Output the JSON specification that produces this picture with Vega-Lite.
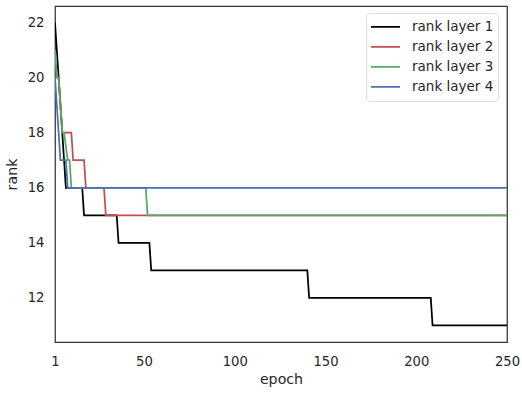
{
  "$schema": "https://vega.github.io/schema/vega-lite/v6.json",
  "autosize": "none",
  "width": 452,
  "height": 336,
  "padding": {"left": 55, "top": 6, "right": 15, "bottom": 52},
  "background": "white",
  "config": {
    "font": "DejaVu Sans",
    "view": {"stroke": "#333333", "strokeWidth": 1.25},
    "axis": {"grid": false, "ticks": false, "domain": false, "labelColor": "#262626", "titleColor": "#262626", "labelFontSize": 13.2, "titleFontSize": 14.2, "titleFontWeight": "normal"}
  },
  "data": {"values": [
    {"epoch": 1, "rank": 22, "series": "rank layer 1"},
    {"epoch": 2, "rank": 21, "series": "rank layer 1"},
    {"epoch": 3, "rank": 20, "series": "rank layer 1"},
    {"epoch": 4, "rank": 19, "series": "rank layer 1"},
    {"epoch": 5, "rank": 18, "series": "rank layer 1"},
    {"epoch": 6, "rank": 17, "series": "rank layer 1"},
    {"epoch": 7, "rank": 16, "series": "rank layer 1"},
    {"epoch": 16, "rank": 16, "series": "rank layer 1"},
    {"epoch": 17, "rank": 15, "series": "rank layer 1"},
    {"epoch": 35, "rank": 15, "series": "rank layer 1"},
    {"epoch": 36, "rank": 14, "series": "rank layer 1"},
    {"epoch": 53, "rank": 14, "series": "rank layer 1"},
    {"epoch": 54, "rank": 13, "series": "rank layer 1"},
    {"epoch": 140, "rank": 13, "series": "rank layer 1"},
    {"epoch": 141, "rank": 12, "series": "rank layer 1"},
    {"epoch": 208, "rank": 12, "series": "rank layer 1"},
    {"epoch": 209, "rank": 11, "series": "rank layer 1"},
    {"epoch": 250, "rank": 11, "series": "rank layer 1"},
    {"epoch": 1, "rank": 20, "series": "rank layer 2"},
    {"epoch": 3, "rank": 20, "series": "rank layer 2"},
    {"epoch": 4, "rank": 19, "series": "rank layer 2"},
    {"epoch": 5, "rank": 18, "series": "rank layer 2"},
    {"epoch": 10, "rank": 18, "series": "rank layer 2"},
    {"epoch": 11, "rank": 17, "series": "rank layer 2"},
    {"epoch": 17, "rank": 17, "series": "rank layer 2"},
    {"epoch": 18, "rank": 16, "series": "rank layer 2"},
    {"epoch": 28, "rank": 16, "series": "rank layer 2"},
    {"epoch": 29, "rank": 15, "series": "rank layer 2"},
    {"epoch": 250, "rank": 15, "series": "rank layer 2"},
    {"epoch": 1, "rank": 21, "series": "rank layer 3"},
    {"epoch": 2, "rank": 20, "series": "rank layer 3"},
    {"epoch": 3, "rank": 20, "series": "rank layer 3"},
    {"epoch": 5, "rank": 18, "series": "rank layer 3"},
    {"epoch": 6, "rank": 18, "series": "rank layer 3"},
    {"epoch": 8, "rank": 17, "series": "rank layer 3"},
    {"epoch": 9, "rank": 17, "series": "rank layer 3"},
    {"epoch": 10, "rank": 16, "series": "rank layer 3"},
    {"epoch": 51, "rank": 16, "series": "rank layer 3"},
    {"epoch": 52, "rank": 15, "series": "rank layer 3"},
    {"epoch": 250, "rank": 15, "series": "rank layer 3"},
    {"epoch": 1, "rank": 20, "series": "rank layer 4"},
    {"epoch": 2, "rank": 19, "series": "rank layer 4"},
    {"epoch": 3, "rank": 18, "series": "rank layer 4"},
    {"epoch": 4, "rank": 17, "series": "rank layer 4"},
    {"epoch": 7, "rank": 17, "series": "rank layer 4"},
    {"epoch": 8, "rank": 16, "series": "rank layer 4"},
    {"epoch": 250, "rank": 16, "series": "rank layer 4"}
  ]},
  "mark": {"type": "line", "strokeWidth": 1.75, "clip": true},
  "encoding": {
    "x": {"field": "epoch", "type": "quantitative", "title": "epoch",
      "scale": {"domain": [1, 250], "nice": false, "zero": false},
      "axis": {"values": [1, 50, 100, 150, 200, 250], "labelPadding": 13, "titlePadding": 5, "labelFlush": false}},
    "y": {"field": "rank", "type": "quantitative", "title": "rank",
      "scale": {"domain": [10.4, 22.6], "nice": false, "zero": false},
      "axis": {"values": [12, 14, 16, 18, 20, 22], "labelPadding": 11, "titlePadding": 8}},
    "color": {"field": "series", "type": "nominal",
      "scale": {"domain": ["rank layer 1", "rank layer 2", "rank layer 3", "rank layer 4"], "range": ["#000000", "#C44E52", "#55A868", "#4C72B0"]},
      "legend": {"title": null, "orient": "none", "legendX": 311, "legendY": 7, "symbolType": "stroke", "symbolSize": 841, "symbolStrokeWidth": 1.75,
        "labelFontSize": 13.5, "labelColor": "#262626", "rowPadding": 0, "clipHeight": 19.5, "padding": 4,
        "strokeColor": "#dddddd", "fillColor": "white", "cornerRadius": 4, "labelOffset": 11}}
  }
}
